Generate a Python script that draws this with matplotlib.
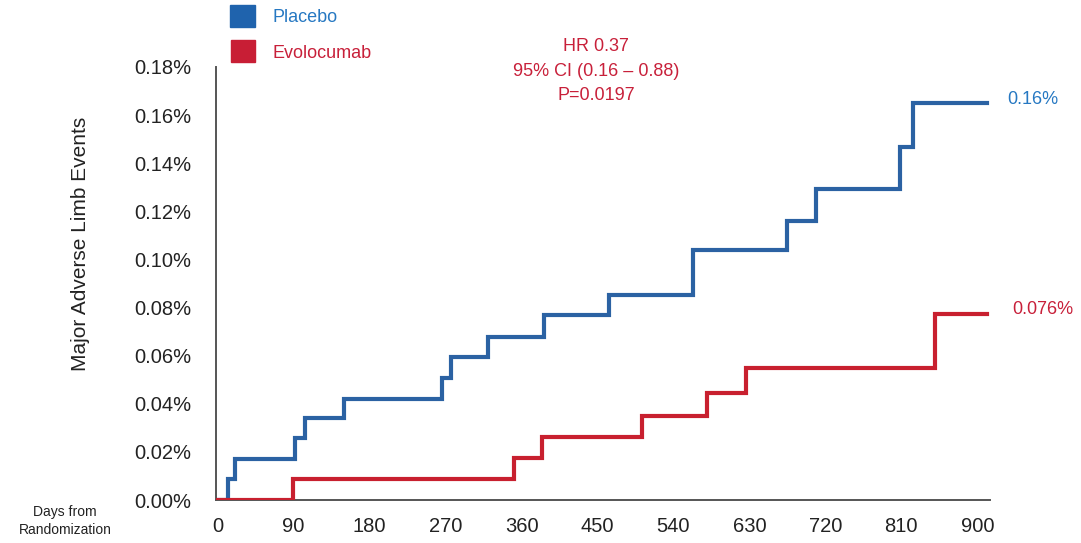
import numpy as np
import matplotlib
matplotlib.use("Agg")
import matplotlib.pyplot as plt
from matplotlib.patches import Rectangle

# days from randomization / cumulative incidence (%)
placebo_days = [0, 12, 21, 92, 103, 150, 266, 277, 320, 387, 464, 563, 674, 709, 808, 824, 912]
placebo_pct = [0, 0.0087, 0.0170, 0.0258, 0.0341, 0.0420, 0.0507, 0.0594, 0.0677, 0.0769,
               0.0852, 0.1039, 0.1160, 0.1293, 0.1467, 0.1650, 0.1650]

evolo_days = [0, 89, 351, 384, 503, 580, 626, 850, 912]
evolo_pct = [0, 0.0087, 0.0175, 0.0262, 0.0349, 0.0445, 0.0549, 0.0773, 0.0773]

xticks = [0, 90, 180, 270, 360, 450, 540, 630, 720, 810, 900]
yticks = [0.00, 0.02, 0.04, 0.06, 0.08, 0.10, 0.12, 0.14, 0.16, 0.18]

blue = '#2b62a3'
red = '#c8202f'
blue_txt = '#2678c2'
red_txt = '#c8203a'

plt.rcParams['font.family'] = ['Liberation Sans', 'DejaVu Sans']

fig = plt.figure(figsize=(10.81, 5.43), dpi=100)
ax = fig.add_axes([216/1081, 43/543, (990-216)/1081, (500-67)/543])

ax.step(placebo_days, placebo_pct, where='post', color=blue, lw=3.0, solid_joinstyle='miter')
ax.step(evolo_days, evolo_pct, where='post', color=red, lw=3.0, solid_joinstyle='miter')

ax.set_xlim(-2, 915)
ax.set_ylim(0, 0.18)
ax.set_xticks(xticks)
ax.set_xticklabels([str(t) for t in xticks])
ax.set_yticks(yticks)
ax.set_yticklabels(['%.2f%%' % v for v in yticks])
ax.tick_params(length=0, labelsize=14.5, colors='#222222')
ax.tick_params(axis='x', pad=12)
ax.tick_params(axis='y', pad=18)

for s in ['top', 'right']:
    ax.spines[s].set_visible(False)
for s in ['left', 'bottom']:
    ax.spines[s].set_color('#555555')
    ax.spines[s].set_linewidth(1.4)
    ax.spines[s].set_zorder(0)

# end labels
ax.text(1007/1081, 1-100/543, '0.16%', transform=fig.transFigure, color=blue_txt,
        fontsize=13, va='center', ha='left')
ax.text(1012/1081, 1-310/543, '0.076%', transform=fig.transFigure, color=red_txt,
        fontsize=13, va='center', ha='left')

# HR annotation
fig.text(596/1081, 1-71/543, 'HR 0.37\n95% CI (0.16 – 0.88)\nP=0.0197', color=red_txt,
         fontsize=13, ha='center', va='center', linespacing=1.55)

# legend
fig.patches.append(Rectangle((230/1081, 1-27/543), 25/1081, 22/543, transform=fig.transFigure,
                             color='#1f63ad', figure=fig))
fig.patches.append(Rectangle((231/1081, 1-62/543), 24/1081, 22/543, transform=fig.transFigure,
                             color='#c81e35', figure=fig))
fig.text(272/1081, 1-18/543, 'Placebo', color=blue_txt, fontsize=13, va='center')
fig.text(273/1081, 1-53/543, 'Evolocumab', color=red_txt, fontsize=13, va='center')

fig.text(80/1081, 1-244/543, 'Major Adverse Limb Events', rotation=90, fontsize=15,
         ha='center', va='center', color='#222222')
fig.text(65/1081, 1-521/543, 'Days from\nRandomization', fontsize=10, ha='center',
         va='center', color='#222222', linespacing=1.3)

fig.savefig('out.png', dpi=100)
